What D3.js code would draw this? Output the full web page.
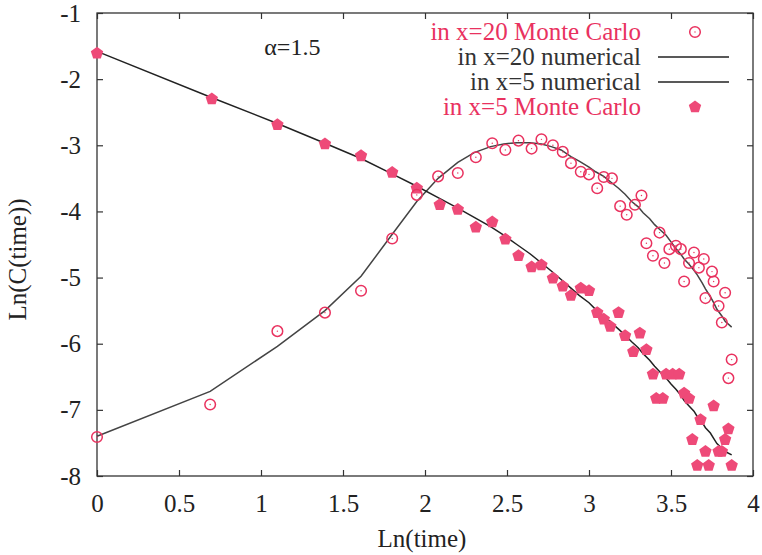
<!DOCTYPE html>
<html>
<head>
<meta charset="utf-8">
<script src="https://cdn.jsdelivr.net/npm/d3@7"></script>
<style>
  body { margin: 0; background: #fff; }
</style>
</head>
<body>
<div id="chart"></div>
<script>
// ---- data ----
const xTicks = [0, 0.5, 1, 1.5, 2, 2.5, 3, 3.5, 4];
const yTicks = [-8, -7, -6, -5, -4, -3, -2, -1];

// x=20 Monte Carlo (open circles)
const mc20X = [0, 0.69, 1.10, 1.39, 1.61, 1.80, 1.95, 2.08, 2.20, 2.31, 2.41, 2.49, 2.57, 2.65, 2.71, 2.78, 2.84,
  2.89, 2.95, 3.00, 3.05, 3.09, 3.14, 3.19, 3.23, 3.28, 3.32, 3.35, 3.39, 3.43, 3.46, 3.49, 3.53, 3.56, 3.58,
  3.61, 3.64, 3.67, 3.70, 3.71, 3.75, 3.76, 3.79, 3.81, 3.83, 3.85, 3.87];
const mc20Y = [-7.41, -6.92, -5.81, -5.53, -5.20, -4.41, -3.75, -3.47, -3.42, -3.18, -2.97, -3.07, -2.93, -3.05, -2.91, -3.00, -3.10,
  -3.27, -3.40, -3.44, -3.65, -3.48, -3.50, -3.92, -4.05, -3.90, -3.76, -4.48, -4.67, -4.32, -4.78, -4.57, -4.52, -4.57, -5.06,
  -4.78, -4.62, -4.85, -4.72, -5.31, -4.91, -5.06, -5.43, -5.68, -5.23, -6.52, -6.24];

// x=5 Monte Carlo (filled pentagons)
const mc5X = [0, 0.70, 1.10, 1.39, 1.61, 1.80, 1.95, 2.09, 2.20, 2.31, 2.41, 2.49, 2.57, 2.65, 2.71, 2.78, 2.84,
  2.89, 2.95, 3.00, 3.05, 3.09, 3.13, 3.18, 3.22, 3.27, 3.31, 3.35, 3.39, 3.41, 3.45, 3.47, 3.51, 3.55,
  3.58, 3.61, 3.63, 3.66, 3.68, 3.71, 3.73, 3.76, 3.79, 3.81, 3.83, 3.85, 3.87];
const mc5Y = [-1.61, -2.30, -2.69, -2.98, -3.16, -3.41, -3.65, -3.90, -3.97, -4.24, -4.16, -4.42, -4.67, -4.84, -4.81, -5.01, -5.13,
  -5.27, -5.16, -5.20, -5.53, -5.63, -5.74, -5.53, -5.88, -6.12, -5.84, -6.09, -6.46, -6.83, -6.83, -6.46, -6.46, -6.46,
  -6.75, -6.83, -7.45, -7.84, -7.15, -7.63, -7.84, -6.94, -7.63, -7.63, -7.45, -7.29, -7.84];

// numerical curves
const numX = [0, 0.69, 1.10, 1.39, 1.61, 1.79, 1.95, 2.08, 2.20, 2.30, 2.40, 2.48, 2.56, 2.64, 2.71, 2.77, 2.83,
  2.89, 2.94, 3.00, 3.04, 3.09, 3.14, 3.18, 3.22, 3.26, 3.30, 3.33, 3.37, 3.40, 3.43, 3.47, 3.50, 3.53, 3.56,
  3.58, 3.61, 3.64, 3.66, 3.69, 3.71, 3.74, 3.76, 3.78, 3.81, 3.83, 3.87];
const num20Y = [-7.40, -6.72, -6.04, -5.50, -4.98, -4.38, -3.85, -3.50, -3.26, -3.11, -3.02, -2.98, -2.96, -2.96, -2.98, -3.02, -3.07,
  -3.17, -3.24, -3.33, -3.40, -3.47, -3.57, -3.65, -3.74, -3.85, -3.93, -4.02, -4.11, -4.20, -4.27, -4.36, -4.46, -4.56, -4.65,
  -4.72, -4.80, -4.89, -4.96, -5.08, -5.17, -5.29, -5.38, -5.48, -5.58, -5.66, -5.75];
const num5Y = [-1.58, -2.27, -2.67, -2.97, -3.20, -3.42, -3.62, -3.79, -3.95, -4.09, -4.23, -4.36, -4.50, -4.64, -4.78, -4.90, -5.03,
  -5.16, -5.27, -5.38, -5.48, -5.58, -5.69, -5.78, -5.87, -5.97, -6.06, -6.15, -6.25, -6.34, -6.42, -6.52, -6.61, -6.69, -6.78,
  -6.86, -6.94, -7.02, -7.10, -7.19, -7.27, -7.35, -7.43, -7.51, -7.58, -7.63, -7.68];

const pink = "#e9325f", pinkFill = "#ee4a78";
const serif = "'Times New Roman', Times, 'Liberation Serif', Tinos, 'Noto Serif', 'DejaVu Serif', FreeSerif, serif";

// set the dimensions and margins of the graph
const W = 762, H = 555;
const margin = {top: 13, right: 9, bottom: 79, left: 97},
    width = W - margin.left - margin.right,
    height = H - margin.top - margin.bottom;

const svg = d3.select("#chart")
  .append("svg")
    .attr("width", W)
    .attr("height", H)
    .style("font-family", serif)
  .append("g")
    .attr("transform", `translate(${margin.left}, ${margin.top})`);

const x = d3.scaleLinear().domain([0, 4]).range([0, width]);
const y = d3.scaleLinear().domain([-8, -1]).range([height, 0]);

// axes: inward ticks on all four sides
const tk = 6;
function styleAxis(g) {
  g.attr("font-family", null).attr("font-size", 25);
  g.select(".domain").remove();
  g.selectAll(".tick line").attr("stroke", "#333").attr("stroke-width", 1.2);
  g.selectAll(".tick text").attr("fill", "#222");
}
svg.append("g").attr("transform", `translate(0,${height})`)
  .call(d3.axisBottom(x).tickValues(xTicks).tickSize(-tk).tickPadding(18).tickFormat(d => String(d)))
  .call(styleAxis);
svg.append("g")
  .call(d3.axisTop(x).tickValues(xTicks).tickSize(-tk).tickFormat(""))
  .call(styleAxis);
svg.append("g")
  .call(d3.axisLeft(y).tickValues(yTicks).tickSize(-tk).tickPadding(16).tickFormat(d => String(d)))
  .call(styleAxis);
svg.append("g").attr("transform", `translate(${width},0)`)
  .call(d3.axisRight(y).tickValues(yTicks).tickSize(-tk).tickFormat(""))
  .call(styleAxis);

// frame
svg.append("rect")
  .attr("width", width).attr("height", height)
  .attr("fill", "none").attr("stroke", "#333").attr("stroke-width", 1.3);

// axis labels
svg.append("text")
  .attr("x", width / 2 - 3).attr("y", height + 71)
  .attr("text-anchor", "middle").attr("font-size", 25).attr("fill", "#222")
  .text("Ln(time)");
svg.append("text")
  .attr("transform", `translate(${-71}, ${height / 2 + 15}) rotate(-90)`)
  .attr("text-anchor", "middle").attr("font-size", 25).attr("fill", "#222")
  .text("Ln(C(time))");

svg.append("text")
  .attr("x", x(1.02)).attr("y", y(-1.63))
  .attr("font-size", 24).attr("fill", "#222")
  .text("\u03b1=1.5");

// lines
const line = d3.line().x(d => x(d[0])).y(d => y(d[1]));
const num20 = numX.map((v, i) => [v, num20Y[i]]);
const num5 = numX.map((v, i) => [v, num5Y[i]]);
svg.append("path").datum(num20).attr("d", line)
  .attr("fill", "none").attr("stroke", "#444").attr("stroke-width", 1.5);
svg.append("path").datum(num5).attr("d", line)
  .attr("fill", "none").attr("stroke", "#222").attr("stroke-width", 1.5);

// pentagon symbol
const pentagon = {
  draw(ctx, size) {
    const r = Math.sqrt(size / 2.378);
    for (let k = 0; k < 5; k++) {
      const a = -Math.PI / 2 + k * 2 * Math.PI / 5;
      const px = r * Math.cos(a), py = r * Math.sin(a);
      if (k === 0) ctx.moveTo(px, py); else ctx.lineTo(px, py);
    }
    ctx.closePath();
  }
};
const pentPath = d3.symbol().type(pentagon).size(2.378 * 6.5 * 6.5)();

function drawCircle(g, cx, cy) {
  g.append("circle").attr("cx", cx).attr("cy", cy).attr("r", 5.3)
    .attr("fill", "none").attr("stroke", pink).attr("stroke-width", 1.5);
  g.append("circle").attr("cx", cx).attr("cy", cy).attr("r", 0.7).attr("fill", pink);
}

// Monte Carlo points
const mc5 = mc5X.map((v, i) => [v, mc5Y[i]]);
svg.selectAll("path.pent")
  .data(mc5)
  .join("path")
    .attr("class", "pent")
    .attr("d", pentPath)
    .attr("transform", d => `translate(${x(d[0])},${y(d[1])})`)
    .attr("fill", pinkFill);

const mc20 = mc20X.map((v, i) => [v, mc20Y[i]]);
const cg = svg.append("g");
mc20.forEach(d => drawCircle(cg, x(d[0]), y(d[1])));

// legend
const legendRows = [
  {label: "in x=20 Monte Carlo", color: pink, kind: "circle"},
  {label: "in x=20 numerical", color: "#333", kind: "line"},
  {label: "in x=5 numerical", color: "#333", kind: "line"},
  {label: "in x=5 Monte Carlo", color: pink, kind: "pent"}
];
const lg = svg.append("g");
legendRows.forEach((r, i) => {
  const cy = 19 + i * 25;
  lg.append("text")
    .attr("x", 544).attr("y", cy + 8)
    .attr("text-anchor", "end").attr("font-size", 25).attr("fill", r.color)
    .text(r.label);
  if (r.kind === "circle") drawCircle(lg, 598, cy);
  else if (r.kind === "pent") lg.append("path").attr("d", pentPath)
    .attr("transform", `translate(598,${cy})`).attr("fill", pinkFill);
  else lg.append("line").attr("x1", 561).attr("x2", 632).attr("y1", cy).attr("y2", cy)
    .attr("stroke", "#222").attr("stroke-width", 1.5);
});
</script>
</body>
</html>
